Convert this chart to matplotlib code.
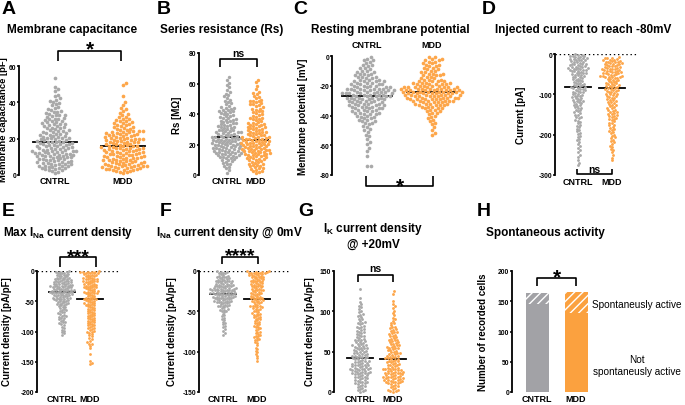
import numpy as np
import matplotlib
matplotlib.use('Agg')
import matplotlib.pyplot as plt
from matplotlib.lines import Line2D

plt.rcParams['font.family'] = ['Liberation Sans', 'DejaVu Sans']
plt.rcParams['font.weight'] = 'bold'
plt.rcParams['axes.unicode_minus'] = False
plt.rcParams['mathtext.fontset'] = 'custom'
plt.rcParams['mathtext.rm'] = 'Liberation Sans:bold'
plt.rcParams['mathtext.bf'] = 'Liberation Sans:bold'
plt.rcParams['mathtext.it'] = 'Liberation Sans:bold'
plt.rcParams['hatch.linewidth'] = 1.0
plt.rcParams['hatch.color'] = 'white'

groups = ['CNTRL', 'MDD']

# ---------------- A: membrane capacitance [pF]
cap_cntrl = [1.2, 1.9, 2.4, 2.6, 2.8, 3.1, 3.3, 3.7, 4.0, 4.1, 4.4, 4.6, 4.7, 4.9,
             5.1, 5.2, 5.6, 5.8, 5.9, 6.0, 6.3, 6.4, 6.7, 6.9, 7.0, 7.3, 7.5, 7.8, 8.1, 8.2, 8.5, 8.6, 8.9, 9.0, 9.3, 9.4, 9.7, 9.8,
             10.0, 10.2, 10.4, 10.5, 10.6, 10.9, 11.0, 11.2, 11.5, 11.7, 11.8, 12.0, 12.1, 12.3, 12.4, 12.6, 12.9, 13.0, 13.1, 13.3,
             13.4, 13.6, 13.9, 14.0, 14.2, 14.5, 14.6, 14.8,
             15.0, 15.3, 15.4, 15.7, 15.9, 16.0, 16.3, 16.5, 16.6, 16.9, 17.1, 17.2, 17.5, 17.7, 17.9, 18.0, 18.3, 18.4, 18.7, 18.9,
             19.2, 19.4, 19.6, 19.9,
             20.1, 20.3, 20.4, 20.6, 20.9, 21.1, 21.4, 21.6, 21.9, 22.2, 22.4, 22.7, 22.9, 23.2, 23.5, 23.7, 24.0, 24.2, 24.5, 24.8,
             25.2, 25.6, 25.9, 26.0, 26.4, 26.9, 27.0, 27.3, 27.8, 28.1, 28.3, 28.5, 28.9, 29.3, 29.5, 29.7,
             30.2, 30.6, 31.0, 31.1, 31.5, 32.0, 32.4, 32.9, 33.0, 33.3, 33.7, 34.1, 34.6, 34.9,
             35.5, 36.0, 36.2, 36.9, 37.6, 38.3, 39.0, 39.7,
             40.4, 41.0, 41.5, 42.3, 43.6, 44.2, 46.1, 47.5, 48.6, 53.4]
cap_mdd = [1.1, 1.4, 1.9, 2.0, 2.3, 2.6, 2.6, 3.0, 3.2, 3.2, 3.5, 3.7, 3.9, 4.0, 4.2, 4.4, 4.4, 4.7, 4.8, 4.9,
           5.0, 5.1, 5.4, 5.6, 5.6, 5.9, 6.0, 6.3, 6.4, 6.5, 6.8, 7.0, 7.0, 7.2, 7.5, 7.6, 7.9, 8.1, 8.1, 8.4, 8.5, 8.8, 9.0,
           9.1, 9.3, 9.6, 9.7, 9.9,
           10.0, 10.3, 10.3, 10.6, 10.8, 11.0, 11.1, 11.4, 11.5, 11.8, 11.9, 12.0, 12.3, 12.5, 12.5, 12.8, 13.0, 13.2, 13.3,
           13.6, 13.8, 13.9, 14.1, 14.2, 14.5, 14.6, 14.8, 14.9,
           15.1, 15.2, 15.5, 15.7, 15.8, 16.1, 16.2, 16.4, 16.7, 16.9, 17.0, 17.2, 17.5, 17.6, 17.9, 18.0, 18.3, 18.4, 18.6,
           18.9, 19.0, 19.2, 19.5, 19.6, 19.8, 19.9,
           20.0, 20.3, 20.5, 20.6, 20.9, 21.1, 21.2, 21.5, 21.8, 21.9, 22.1, 22.4, 22.5, 22.8, 23.0, 23.1, 23.4, 23.6, 23.8,
           24.0, 24.2, 24.4, 24.7, 24.9,
           25.2, 25.5, 25.9, 26.3, 26.6, 27.0, 27.4, 27.7, 28.1, 28.4, 28.8, 29.2, 29.5, 29.9,
           30.3, 30.8, 31.0, 31.8, 32.2, 33.0, 33.6, 34.3, 35.5, 36.1, 37.0, 38.6, 40.2, 43.5, 49.6, 50.4]
cap_lines = [18, 16]

# ---------------- B: series resistance [MOhm]
rs_cntrl = [1.5, 3.2, 4.6, 5.4, 6.1, 6.9, 7.4, 8.0, 8.8, 9.2, 9.7,
            10.1, 10.4, 10.9, 11.2, 11.5, 11.9, 12.1, 12.5, 12.7, 13.0, 13.2, 13.6, 13.8, 14.0, 14.3, 14.5, 14.6, 14.9,
            15.0, 15.3, 15.5, 15.8, 15.9, 16.1, 16.4, 16.7, 16.9, 17.2, 17.4, 17.5, 17.9, 18.0, 18.2, 18.5, 18.7, 18.9,
            19.1, 19.4, 19.6, 19.8,
            20.0, 20.2, 20.5, 20.7, 20.9, 21.0, 21.3, 21.6, 21.8, 22.0, 22.1, 22.4, 22.6, 22.9, 23.1, 23.2, 23.5, 23.7,
            23.9, 24.1, 24.3, 24.5, 24.7, 24.9,
            25.1, 25.4, 25.7, 25.9, 26.2, 26.4, 26.8, 27.0, 27.3, 27.5, 27.9, 28.1, 28.3, 28.6, 28.9, 29.2, 29.4, 29.8,
            30.1, 30.5, 30.9, 31.2, 31.6, 31.9, 32.3, 32.8, 33.1, 33.4, 33.9, 34.1, 34.5, 34.8,
            35.2, 35.7, 36.1, 36.3, 36.6, 37.1, 37.5, 37.9, 38.4, 38.8, 39.2, 39.7,
            40.2, 40.6, 41.1, 41.5, 41.8, 42.0, 42.4, 42.9, 43.4, 43.7, 44.2, 44.6,
            45.4, 46.3, 47.1, 48.0, 48.8, 49.5, 50.6, 51.5, 52.4, 53.3, 54.2, 56.0, 57.5, 59.0, 60.3, 62.4, 64.1]
rs_mdd = [1.2, 1.8, 2.3, 2.9, 3.4, 3.8, 4.3, 4.7,
          5.2, 5.6, 6.0, 6.3, 6.8, 7.1, 7.5, 7.9, 8.4, 8.8, 9.3, 9.7,
          10.1, 10.4, 10.8, 11.0, 11.1, 11.5, 11.8, 12.2, 12.4, 12.9, 13.1, 13.4, 13.6, 13.8, 14.0, 14.3, 14.5, 14.8,
          15.0, 15.2, 15.5, 15.7, 16.0, 16.2, 16.5, 16.6, 16.8, 17.0, 17.2, 17.5, 17.7, 18.0, 18.3, 18.5, 18.8, 19.0,
          19.2, 19.5, 19.7, 19.9,
          20.1, 20.4, 20.6, 20.9, 21.0, 21.1, 21.3, 21.6, 21.8, 22.1, 22.3, 22.6, 22.8, 22.9, 23.1, 23.3, 23.6, 23.9,
          24.1, 24.3, 24.6, 24.8,
          25.2, 25.6, 26.0, 26.3, 26.5, 26.7, 27.1, 27.5, 27.8, 28.0, 28.2, 28.5, 28.9, 29.3, 29.6, 29.9,
          30.3, 30.7, 31.1, 31.3, 31.5, 31.9, 32.3, 32.8, 33.1, 33.3, 33.5, 33.9, 34.3, 34.7,
          35.4, 35.9, 36.5, 36.8, 37.1, 37.6, 38.2, 38.8, 39.3, 39.8,
          40.5, 41.3, 41.7, 42.0, 42.8, 43.1, 43.6, 44.3,
          45.2, 45.8, 46.4, 46.7, 47.0, 47.6, 48.2, 48.5, 48.8, 49.4,
          50.3, 51.2, 52.0, 52.9, 53.8, 54.6, 56.5, 58.4, 60.7, 62.3]
rs_lines = [25, 23]

# ---------------- C: resting membrane potential [mV]
rmp_cntrl = [-1, -2, -3, -3, -4, -5, -6, -6, -7, -8, -8, -9, -10, -10,
             -11, -11, -12, -12, -12, -13, -13, -14, -14, -14, -15, -15,
             -16, -16, -16, -17, -17, -17, -17, -18, -18, -18, -19, -19, -19, -19, -20, -20, -20, -20,
             -21, -21, -21, -21, -22, -22, -22, -22, -22, -22, -23, -23, -23, -23, -23, -24, -24, -24, -24, -24,
             -25, -25, -25, -25, -25, -25,
             -26, -26, -26, -26, -26, -27, -27, -27, -27, -27, -28, -28, -28, -28, -28, -29, -29, -29, -29, -29,
             -30, -30, -30, -30,
             -31, -31, -31, -31, -32, -32, -32, -32, -33, -33, -33, -33, -34, -34, -34, -34, -35, -35, -35, -35,
             -36, -36, -36, -37, -37, -37, -38, -38, -38, -39, -39, -39, -40, -40,
             -41, -41, -42, -42, -43, -43, -44, -44, -45, -45,
             -46, -47, -48, -49, -50, -51, -53, -54, -56, -58, -59, -62, -64, -67, -74, -74]
rmp_mdd = [-1, -1, -2, -2, -3, -3, -4, -4, -5, -5, -6, -6, -7, -7, -8, -8, -9, -9, -10, -10,
           -11, -11, -12, -12, -12, -13, -13, -13, -14, -14, -15, -15,
           -16, -16, -16, -17, -17, -17, -17, -18, -18, -18, -18, -19, -19, -19, -19, -19, -20, -20, -20, -20,
           -21, -21, -21, -21, -21, -21, -21, -22, -22, -22, -22, -22, -22, -22, -23, -23, -23, -23, -23, -23, -23,
           -24, -24, -24, -24, -24, -24, -24, -24, -25, -25, -25, -25, -25, -25, -25,
           -26, -26, -26, -26, -26, -26, -27, -27, -27, -27, -27, -27, -28, -28, -28, -28, -28, -28,
           -29, -29, -29, -29, -29, -29, -30, -30, -30, -30, -30, -30,
           -31, -31, -31, -31, -32, -32, -32, -32, -33, -33, -33, -33, -34, -34, -34, -35, -35, -35,
           -36, -36, -37, -37, -38, -38, -39, -40, -41, -42, -43, -44, -45, -46, -48, -50, -52, -53]
rmp_lines = [-27, -24]

# ---------------- D: injected current to reach -80 mV [pA]
inj_cntrl = [-1, -2, -2, -4, -5, -5, -7, -8, -9, -10, -10, -12, -13, -14, -15, -15, -16, -18, -19, -20,
             -21, -22, -24, -24, -25, -26, -27, -28, -30, -30, -31, -31, -33, -34, -35, -35, -36, -37, -38, -39, -40, -40,
             -41, -43, -43, -44, -46, -47, -48, -48, -50, -51, -52, -53, -55, -56, -57, -58, -60,
             -61, -63, -64, -65, -67, -68, -69, -71, -72, -74, -75, -76, -78, -79,
             -80, -81, -83, -84, -85, -86, -87, -89, -90, -91, -93, -94, -95, -97, -98, -100,
             -101, -103, -104, -105, -107, -109, -110, -111, -113, -115, -116, -117, -119, -120,
             -122, -123, -126, -127, -129, -132, -133, -135, -138, -139,
             -142, -145, -147, -150, -151, -155, -157, -159,
             -163, -165, -168, -172, -176, -178, -181, -185, -188, -192, -196, -198,
             -203, -206, -211, -214, -218, -224, -228, -232, -238, -243, -250, -255, -262, -270, -276]
inj_mdd = [-8, -10, -10, -11, -13, -14, -14, -16, -17, -17, -19, -20,
           -20, -21, -23, -23, -24, -25, -26, -27, -28, -29, -30, -30, -32, -33, -34, -35, -36, -36, -37, -38, -39, -40,
           -41, -42, -43, -44, -45, -45, -47, -47, -48, -50, -50, -51, -52, -54, -54, -55, -56, -57, -58, -58, -59, -60,
           -61, -62, -64, -65, -66, -67, -69, -70, -71, -73, -74, -75, -76, -78, -79, -80,
           -81, -82, -84, -85, -86, -87, -89, -90, -91, -92, -94, -95, -96, -98, -99, -100,
           -102, -104, -105, -107, -108, -110, -112, -113, -115, -117, -118, -120,
           -122, -124, -126, -127, -130, -131, -134, -135, -138, -140,
           -141, -143, -144, -146, -148, -149, -151, -153, -154, -156, -158, -160,
           -162, -164, -167, -170, -171, -175, -177, -180,
           -183, -186, -188, -192, -194, -197, -200, -203, -207, -209, -212, -216, -218,
           -222, -227, -230, -235, -238, -244, -251, -257, -264]
inj_lines = [-82, -85]

# ---------------- E: max I_Na current density [pA/pF]
ina_max_cntrl = [-0.5, -1, -1, -2, -3, -3, -4, -5, -5, -6, -7, -7, -8, -9, -9, -10,
                 -11, -11, -12, -12, -13, -13, -14, -14, -15, -15, -16, -16, -17, -17, -18, -18, -19, -19, -20, -20,
                 -21, -21, -22, -22, -22, -23, -23, -24, -24, -24, -25, -25, -25, -26, -26, -27, -27, -27, -28, -28,
                 -29, -29, -30, -30,
                 -31, -31, -31, -32, -32, -33, -33, -33, -34, -34, -34, -35, -35, -35, -36, -36, -37, -37, -37, -38,
                 -38, -39, -39, -39, -40, -40,
                 -41, -41, -42, -43, -43, -44, -44, -45, -45, -46, -46, -47, -47, -48, -48, -49, -49, -50,
                 -51, -52, -53, -53, -54, -55, -55, -56, -57, -58, -59, -60,
                 -61, -63, -64, -65, -66, -67, -68, -70, -71, -72, -74, -75, -76, -77, -78, -80,
                 -81, -83, -84, -85, -86, -88, -89, -92, -95, -97, -99, -101, -103, -105]
ina_max_mdd = [-0.5, -1, -1, -1, -2, -2, -3, -3, -4, -4, -5, -6, -6, -7, -8, -8, -9, -10,
               -11, -12, -12, -13, -13, -14, -14, -15, -16, -16, -17, -17, -18, -18, -19, -20,
               -21, -22, -22, -23, -23, -24, -24, -25, -26, -26, -27, -27, -28, -28, -29, -30,
               -31, -32, -33, -33, -34, -34, -35, -36, -36, -37, -37, -38, -39, -40,
               -41, -42, -43, -44, -44, -45, -46, -46, -47, -47, -48, -48, -49, -50,
               -51, -52, -53, -53, -54, -55, -56, -56, -57, -58, -59, -60,
               -61, -62, -63, -64, -65, -66, -67, -68, -69, -70,
               -71, -72, -73, -74, -75, -76, -77, -78, -79, -80,
               -81, -82, -83, -84, -85, -86, -87, -88, -89, -90,
               -91, -92, -94, -95, -96, -97, -99, -100,
               -101, -102, -104, -106, -108, -110, -112, -115, -118, -120, -121, -124, -128, -137, -149, -152, -153]
ina_max_lines = [-35, -47]

# ---------------- F: I_Na current density @ 0 mV [pA/pF]
ina0_cntrl = [-0.5, -1, -1, -2, -3, -3, -4, -5, -6, -6, -7, -7, -8, -8, -9, -9, -10, -10,
              -11, -11, -12, -12, -12, -13, -13, -13, -14, -14, -15, -15,
              -16, -16, -16, -17, -17, -17, -18, -18, -18, -19, -19, -19, -20, -20,
              -21, -21, -21, -21, -22, -22, -22, -22, -23, -23, -23, -23, -24, -24, -24, -25, -25, -25,
              -26, -26, -26, -26, -27, -27, -27, -27, -28, -28, -28, -28, -29, -29, -29, -30, -30, -30,
              -31, -31, -31, -32, -32, -32, -32, -33, -33, -33, -34, -34, -34, -35, -35, -35,
              -36, -36, -37, -37, -37, -38, -38, -38, -39, -39, -40, -40,
              -41, -42, -42, -43, -43, -44, -44, -45, -46, -47, -48, -48, -49, -50,
              -51, -53, -55, -56, -58, -60, -61, -63, -64, -66, -68, -70, -72, -74, -77, -79]
ina0_mdd = [-0.5, -0.5, -1, -1, -1, -2, -2, -2, -3, -3, -3, -4, -4, -5, -5, -5, -6, -6, -7, -7, -8, -8, -9, -9, -10, -10,
            -11, -11, -12, -12, -13, -13, -14, -14, -15, -15, -16, -16, -17, -17, -18, -18, -19, -19, -20, -20,
            -21, -22, -22, -23, -23, -24, -24, -25, -26, -26, -27, -27, -28, -28, -29, -30,
            -31, -31, -32, -32, -33, -33, -34, -34, -35, -35, -36, -36, -37, -37, -38, -38, -39, -40,
            -41, -42, -43, -43, -44, -44, -45, -45, -46, -47, -47, -48, -49, -50,
            -51, -52, -53, -53, -54, -55, -56, -57, -57, -58, -59, -60,
            -61, -62, -63, -64, -65, -66, -67, -68, -69, -70,
            -71, -72, -73, -75, -76, -77, -78, -79, -80,
            -81, -82, -83, -84, -85, -86, -88, -89, -92, -95, -97, -99, -101, -103, -105, -108, -112]
ina0_lines = [-28, -35]

# ---------------- G: I_K current density @ +20 mV [pA/pF]
ik_cntrl = [0.5, 1, 2, 3, 4, 5, 6, 7, 8, 9,
            10, 11, 11, 12, 13, 13, 14, 15, 15, 16, 17, 17, 18, 19, 19, 20,
            21, 21, 22, 22, 23, 23, 24, 24, 25, 25, 25, 26, 26, 27, 27, 28, 28, 28, 29, 29, 30, 30,
            31, 31, 32, 32, 33, 33, 34, 34, 35, 35, 36, 36, 37, 37, 38, 38, 39, 40,
            41, 41, 42, 42, 43, 43, 44, 44, 45, 45, 46, 46, 47, 47, 48, 48, 49, 50,
            51, 51, 52, 52, 53, 54, 54, 55, 55, 56, 57, 57, 58, 58, 59, 60,
            61, 62, 62, 63, 64, 65, 65, 66, 67, 68, 69, 70,
            71, 72, 73, 74, 75, 76, 77, 78, 79, 80,
            81, 82, 84, 85, 86, 87, 88, 90, 91, 93, 94, 96, 97, 99, 101, 103, 105, 107, 109, 112, 116, 128]
ik_mdd = [0.5, 1, 1, 2, 3, 4, 5, 6, 7, 8, 9, 10,
          11, 11, 12, 12, 13, 13, 14, 14, 15, 15, 15, 16, 16, 17, 17, 17, 18, 18, 19, 19, 20, 20,
          21, 21, 22, 22, 23, 23, 24, 24, 24, 25, 25, 26, 26, 27, 27, 28, 28, 28, 29, 29, 30, 30,
          31, 32, 33, 33, 34, 35, 35, 36, 37, 37, 38, 39, 39, 40,
          41, 41, 42, 42, 43, 44, 44, 45, 45, 46, 47, 47, 48, 48, 49, 50,
          51, 52, 52, 53, 54, 54, 55, 56, 56, 57, 58, 58, 59, 60,
          61, 62, 62, 63, 64, 65, 65, 66, 67, 68, 69, 70,
          71, 72, 73, 74, 75, 76, 77, 78, 79, 80,
          81, 83, 85, 86, 88, 90, 92, 95, 98, 101, 104, 106, 109, 113, 122, 125]
ik_lines = [42, 41]

# ---------------- H: spontaneous activity (number of cells)
not_active = [145, 131]
spont_active = [19, 34]

# ====================================================================
W, H = 685, 406
fig = plt.figure(figsize=(W / 100, H / 100), dpi=100)

GREY = '#a9a9a9'
ORANGE = '#fda64a'
BAR_GREY = '#a2a2a6'
BAR_ORANGE = '#fba13f'
COLORS = [GREY, ORANGE]


def fx(x):
    return x / W


def fy(y):
    return 1 - y / H


def fline(xs, ys, lw=1.2):
    fig.add_artist(Line2D([fx(x) for x in xs], [fy(y) for y in ys],
                          transform=fig.transFigure, color='black', lw=lw,
                          solid_capstyle='butt'))


def ftext(x, y, s, **kw):
    fig.text(fx(x), fy(y), s, **kw)


def make_ax(x_axis, top, bottom, right, c0, c1, ylim, yticks, xpad=1.8):
    ax = fig.add_axes([fx(x_axis), fy(bottom), (right - x_axis) / W, (bottom - top) / H])
    unit = c1 - c0
    ax.set_xlim((x_axis - c0) / unit, (right - c0) / unit)
    ax.set_ylim(*ylim)
    ax.set_yticks(yticks)
    for s in ['top', 'right', 'bottom']:
        ax.spines[s].set_visible(False)
    ax.spines['left'].set_linewidth(1.3)
    ax.tick_params(axis='y', length=1.6, width=1.1, labelsize=4.9, pad=0.3)
    ax.set_xticks([0, 1])
    ax.set_xticklabels(groups)
    ax.tick_params(axis='x', length=0, labelsize=6.5, pad=xpad)
    ax.patch.set_alpha(0)
    return ax, unit


def beeswarm(ax, values, pos, unit, color, d, s):
    vals = np.asarray(values, float)
    ypix = ax.transData.transform(np.column_stack([np.zeros_like(vals), vals]))[:, 1]
    order = np.argsort(ypix, kind='stable')
    xoff = np.zeros(len(vals))
    placed = []
    for i in order:
        y = ypix[i]
        near = [(px, py) for px, py in placed if abs(py - y) < d]
        cands = [0.0]
        for px, py in near:
            dx = np.sqrt(max(d * d - (py - y) ** 2, 0))
            cands += [px + dx, px - dx]
        cands.sort(key=abs)
        for c in cands:
            if all((c - px) ** 2 + (y - py) ** 2 >= d * d - 1e-6 for px, py in near):
                xoff[i] = c
                break
        placed.append((xoff[i], y))
    ax.scatter(pos + xoff / unit, vals, s=s, c=color, linewidths=0, zorder=3, clip_on=False)


def swarm_panel(ax, unit, data, lines, hw, d, s):
    for k, (vals, m) in enumerate(zip(data, lines)):
        ax.plot([k - hw, k + hw], [m, m], color='black', lw=1.3, zorder=2)
        beeswarm(ax, vals, k, unit, COLORS[k], d, s)


def bracket(x0, x1, ytop, yleg, label, ty, fs):
    fline([x0, x0, x1, x1], [yleg, ytop, ytop, yleg])
    ftext((x0 + x1) / 2, ty, label, ha='center', va='baseline', fontsize=fs, fontweight='bold')


def panel_letter(x, y, s):
    ftext(x, y, s, ha='left', va='top', fontsize=14, fontweight='bold')


def title(x, y, s, **kw):
    ftext(x, y, s, ha='center', va='center', fontsize=8.5, fontweight='bold', **kw)


def ylabel(x, y, s, fs=7.0):
    ftext(x, y, s, ha='center', va='center', rotation=90, fontsize=fs, fontweight='bold')


# ---- A
axA, uA = make_ax(19, 67, 176, 150, 55, 123, (0, 60), [0, 20, 40, 60], xpad=0.8)
swarm_panel(axA, uA, [cap_cntrl, cap_mdd], cap_lines, 0.32, 3.6, 7.0)
panel_letter(2, 1, 'A')
title(72, 30, 'Membrane capacitance')
ylabel(3.9, 120, 'Membrane capacitance [pF]', fs=6.8)
bracket(58, 121, 52, 62, '*', 55, 15)

# ---- B
axB, uB = make_ax(199, 54, 176, 285, 227, 256, (0, 80), [0, 20, 40, 60, 80], xpad=0.8)
swarm_panel(axB, uB, [rs_cntrl, rs_mdd], rs_lines, 0.42, 3.1, 6.0)
panel_letter(157, 1, 'B')
title(222, 30, 'Series resistance (Rs)')
ylabel(177, 115, 'Rs [MΩ]')
bracket(220, 257, 60, 68, 'ns', 57, 7.5)

# ---- C
axC, uC = make_ax(332, 57, 176, 468, 367, 432, (-80, 0), [0, -20, -40, -60, -80])
axC.xaxis.tick_top()
axC.tick_params(axis='x', length=0, labelsize=6.5, pad=5)
swarm_panel(axC, uC, [rmp_cntrl, rmp_mdd], rmp_lines, 0.39, 3.6, 7.0)
panel_letter(293, 1, 'C')
title(390, 30, 'Resting membrane potential')
ylabel(303, 117, 'Membrane potential [mV]')
bracket(366, 433, 187, 177, '*', 192, 15)

# ---- D
axD, uD = make_ax(555, 55, 176, 637, 578, 612, (-300, 0), [0, -100, -200, -300], xpad=1.5)
axD.axhline(0, color='black', lw=1.0, ls=(0, (1, 2)), zorder=1)
swarm_panel(axD, uD, [inj_cntrl, inj_mdd], inj_lines, 0.38, 2.6, 4.2)
panel_letter(482, 1, 'D')
title(583, 30, 'Injected current to reach -80mV')
ylabel(521, 115, 'Current [pA]')
bracket(577, 612, 175, 170, 'ns', 173, 7.5)

# ---- E
axE, uE = make_ax(37, 272, 393, 120, 62, 90, (-200, 0), [0, -50, -100, -150, -200])
axE.axhline(0, color='black', lw=1.0, ls=(0, (1, 2)), zorder=1)
swarm_panel(axE, uE, [ina_max_cntrl, ina_max_mdd], ina_max_lines, 0.45, 2.4, 4.0)
panel_letter(2, 203, 'E')
title(68, 233, r'Max I$_{\mathbf{Na}}$ current density')
ylabel(7, 332, 'Current density [pA/pF]')
bracket(60, 96, 258, 268, '***', 262, 14)

# ---- F
axF, uF = make_ax(199, 272, 393, 290, 223, 257, (-150, 0), [0, -50, -100, -150])
axF.axhline(0, color='black', lw=1.0, ls=(0, (1, 2)), zorder=1)
swarm_panel(axF, uF, [ina0_cntrl, ina0_mdd], ina0_lines, 0.37, 2.45, 4.0)
panel_letter(160, 203, 'F')
title(230, 233, r'I$_{\mathbf{Na}}$ current density @ 0mV')
ylabel(172, 332, 'Current density [pA/pF]')
bracket(222, 258, 258, 265, '****', 261, 14)

# ---- G
axG, uG = make_ax(334, 272, 393, 412, 360, 393, (0, 150), [0, 50, 100, 150])
swarm_panel(axG, uG, [ik_cntrl, ik_mdd], ik_lines, 0.38, 2.6, 4.2)
panel_letter(298, 203, 'G')
title(373, 236, 'I$_{\\mathbf{K}}$ current density\n@ +20mV', linespacing=1.25)
ylabel(310, 332, 'Current density [pA/pF]')
bracket(358, 393, 276, 283, 'ns', 272, 7.5)

# ---- H
axH, uH = make_ax(512, 272, 393, 600, 537, 576, (0, 200), [0, 50, 100, 150, 200])
bw = 23 / uH
axH.bar([0, 1], not_active, width=bw, color=[BAR_GREY, BAR_ORANGE], linewidth=0, zorder=2)
axH.bar([0, 1], spont_active, bottom=not_active, width=bw, color=[BAR_GREY, BAR_ORANGE],
        edgecolor='white', hatch='////', linewidth=0, zorder=2)
panel_letter(477, 203, 'H')
title(545, 233, 'Spontaneous activity')
ylabel(483, 332, 'Number of recorded cells')
bracket(537, 576, 279, 287, '*', 283, 15)
ftext(592, 305, 'Spontaneusly active', ha='left', va='center', fontsize=7.2, fontweight='normal')
ftext(637, 366, 'Not\nspontaneusly active', ha='center', va='center', fontsize=7.2,
      fontweight='normal', linespacing=1.15)

fig.savefig('out.png', dpi=100)
